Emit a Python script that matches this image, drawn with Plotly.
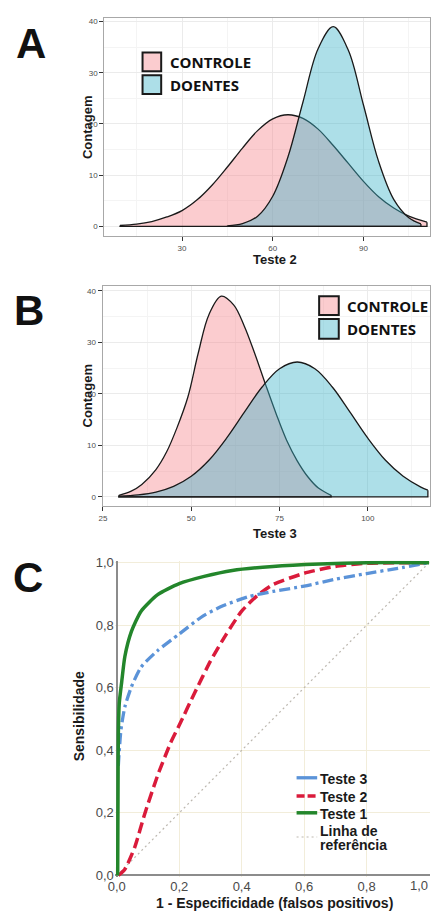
import plotly.graph_objects as go

# Page is 439x924; the browser's default 8px body margin surrounds the figure.
PAGE_W, PAGE_H = 439, 924
OFF = 8
W, H = PAGE_W - 2 * OFF, PAGE_H - 2 * OFF

# ---------------- Panel A (Teste 2) ----------------
a_ctrl_x = [9.5, 15, 20, 25, 30, 35, 40, 45, 50, 55, 60, 65, 70, 75, 80, 85, 90, 95, 100, 105, 111]
a_ctrl_y = [0.19, 0.46, 0.96, 1.85, 3.1, 5.2, 8.1, 11.6, 15.3, 18.7, 21.0, 21.8, 21.1, 19.0, 15.8, 12.3, 8.8, 5.8, 3.6, 2.0, 0.83]
a_doen_x = [45, 50, 55, 60, 65, 70, 75, 80, 85, 90, 95, 100, 105, 109]
a_doen_y = [0.12, 0.56, 2.0, 5.9, 13.5, 24.3, 34.7, 39.0, 34.4, 23.7, 12.7, 5.3, 1.7, 0.5]
a_xticks = [30, 60, 90]
a_yticks = [0, 10, 20, 30, 40]

# ---------------- Panel B (Teste 3) ----------------
b_ctrl_x = [29.5, 33, 36, 40, 43, 46, 49, 52, 55, 58.5, 62, 65, 68, 71, 74, 77, 80, 83, 86, 89.6]
b_ctrl_y = [0.3, 1.1, 2.4, 5.3, 8.7, 13.5, 19.3, 28.0, 35.4, 39.0, 37.3, 33.2, 27.8, 21.9, 16.2, 11.0, 7.0, 3.9, 1.7, 0.3]
b_doen_x = [29.5, 35, 40, 45, 50, 55, 60, 65, 70, 75, 80, 85, 90, 95, 100, 105, 110, 115, 117]
b_doen_y = [0.13, 0.39, 0.93, 2.04, 4.0, 7.1, 11.4, 16.4, 21.3, 24.9, 26.2, 24.9, 21.3, 16.4, 11.4, 7.1, 4.0, 1.9, 1.3]
b_xticks = [25, 50, 75, 100]
b_yticks = [0, 10, 20, 30, 40]

# ---------------- Panel C (ROC) ----------------
t1_x = [0.003, 0.004, 0.005, 0.008, 0.016, 0.026, 0.047, 0.078, 0.13, 0.2, 0.28, 0.37, 0.5, 0.65, 0.8, 1.0]
t1_y = [0.0, 0.25, 0.45, 0.55, 0.62, 0.70, 0.78, 0.845, 0.897, 0.933, 0.956, 0.975, 0.988, 0.996, 1.0, 1.0]
t2_x = [0.005, 0.026, 0.0575, 0.089, 0.131, 0.173, 0.2, 0.25, 0.3, 0.35, 0.4, 0.45, 0.5, 0.6, 0.7, 0.8, 1.0]
t2_y = [0.0, 0.02, 0.09, 0.195, 0.32, 0.425, 0.48, 0.585, 0.685, 0.77, 0.845, 0.895, 0.93, 0.966, 0.988, 0.998, 1.0]
t3_x = [0.005, 0.007, 0.0135, 0.026, 0.047, 0.078, 0.13, 0.2, 0.277, 0.34, 0.424, 0.5, 0.6, 0.7, 0.8, 0.9, 1.0]
t3_y = [0.35, 0.382, 0.466, 0.539, 0.603, 0.666, 0.718, 0.772, 0.83, 0.862, 0.892, 0.908, 0.925, 0.947, 0.965, 0.982, 1.0]
ref_x = [0, 1]
ref_y = [0, 1]
c_ticks = [0, 0.2, 0.4, 0.6, 0.8, 1.0]
c_ticktext = ["0,0", "0,2", "0,4", "0,6", "0,8", "1,0"]

group_names = ["CONTROLE", "DOENTES"]
roc_names = ["Teste 3", "Teste 2", "Teste 1"]

PINK = "rgba(244,128,134,0.40)"
BLUE = "rgba(60,178,200,0.42)"
OUTLINE = "#1a1a1a"
C_GREEN = "#23862B"
C_RED = "#DA1B3B"
C_BLUE = "#5B93D8"
C_REF = "#BDB8B0"

ARIAL = "Liberation Sans, Arial, sans-serif"
CAL = "Open Sans, sans-serif"


def px(x):
    return min(max((x - OFF) / W, 0), 1)


def py(y):
    return min(max(1 - (y - OFF) / H, 0), 1)


fig = go.Figure()


def density(xs, ys, fill, xa, ya):
    fig.add_trace(go.Scatter(x=xs, y=ys, mode="lines", fill="tozeroy", fillcolor=fill,
                             line=dict(shape="spline", color=OUTLINE, width=1.3),
                             xaxis=xa, yaxis=ya, showlegend=False, hoverinfo="skip"))


def edges(xs, ys, xa, ya):
    fig.add_trace(go.Scatter(x=[xs[0], xs[0], xs[-1], xs[-1]], y=[ys[0], 0, 0, ys[-1]],
                             mode="lines", line=dict(color=OUTLINE, width=1.3),
                             xaxis=xa, yaxis=ya, showlegend=False, hoverinfo="skip"))


density(a_ctrl_x, a_ctrl_y, PINK, "x", "y")
density(a_doen_x, a_doen_y, BLUE, "x", "y")
edges(a_ctrl_x, a_ctrl_y, "x", "y")
edges(a_doen_x, a_doen_y, "x", "y")

density(b_ctrl_x, b_ctrl_y, PINK, "x2", "y2")
density(b_doen_x, b_doen_y, BLUE, "x2", "y2")
edges(b_ctrl_x, b_ctrl_y, "x2", "y2")
edges(b_doen_x, b_doen_y, "x2", "y2")

# ROC
fig.add_trace(go.Scatter(x=ref_x, y=ref_y, mode="lines", line=dict(color=C_REF, width=1.2, dash="2px,3px"),
                         xaxis="x3", yaxis="y3", showlegend=False, hoverinfo="skip"))
fig.add_trace(go.Scatter(x=t2_x, y=t2_y, mode="lines", line=dict(color=C_RED, width=3.5, dash="11px,5px", shape="spline", smoothing=0.6),
                         xaxis="x3", yaxis="y3", showlegend=False))
fig.add_trace(go.Scatter(x=t3_x, y=t3_y, mode="lines", line=dict(color=C_BLUE, width=3.3, dash="11px,4px,3px,4px", shape="spline", smoothing=0.6),
                         xaxis="x3", yaxis="y3", showlegend=False))
fig.add_trace(go.Scatter(x=t1_x, y=t1_y, mode="lines", line=dict(color=C_GREEN, width=3.5, shape="spline", smoothing=0.6),
                         xaxis="x3", yaxis="y3", showlegend=False))

tickfont_small = dict(family=ARIAL, size=8, color="#4D4D4D")
common_ab = dict(showline=True, mirror=True, linecolor="#A8A8A8", linewidth=1,
                 ticks="outside", ticklen=4, tickcolor="#333333", tickwidth=1,
                 tickfont=tickfont_small, showgrid=True, gridcolor="#EBEBEB", gridwidth=1,
                 zeroline=False)

# the last x label of panel C sits at the page edge: drawn as a right-aligned annotation
c_xticktext = c_ticktext[:-1] + [""]

fig.update_layout(
    width=W, height=H, margin=dict(l=0, r=0, t=0, b=0),
    paper_bgcolor="white", plot_bgcolor="white", showlegend=False,
    xaxis=dict(domain=[px(99), 1.0], range=[4.3, 112.0], anchor="y", tickvals=a_xticks,
               minor=dict(tickvals=[15, 45, 75, 105], showgrid=True, gridcolor="#F4F4F4", ticks=""),
               **common_ab),
    yaxis=dict(domain=[py(233), py(12)], range=[-1.87, 40.7], anchor="x", tickvals=a_yticks,
               minor=dict(tickvals=[5, 15, 25, 35], showgrid=True, gridcolor="#F4F4F4", ticks=""),
               **common_ab),
    xaxis2=dict(domain=[px(97.3), 1.0], range=[24.9, 117.6], anchor="y2", tickvals=b_xticks,
                minor=dict(tickvals=[37.5, 62.5, 87.5, 112.5], showgrid=True, gridcolor="#F4F4F4", ticks=""),
                **common_ab),
    yaxis2=dict(domain=[py(507), py(284)], range=[-1.86, 40.9], anchor="x2", tickvals=b_yticks,
                minor=dict(tickvals=[5, 15, 25, 35], showgrid=True, gridcolor="#F4F4F4", ticks=""),
                **common_ab),
    xaxis3=dict(domain=[px(109.8), 1.0], range=[-0.006, 1.003], anchor="y3",
                tickvals=c_ticks, ticktext=c_xticktext, ticks="", showline=False,
                tickfont=dict(family=ARIAL, size=13, color="#4a4a4a"),
                showgrid=True, gridcolor="#F2EDDA", gridwidth=1,
                zeroline=True, zerolinecolor="#8C8C8C", zerolinewidth=1.5),
    yaxis3=dict(domain=[py(882.9), py(562.1)], range=[-0.006, 1.006], anchor="x3",
                tickvals=c_ticks, ticktext=c_ticktext, ticks="", showline=False,
                tickfont=dict(family=ARIAL, size=13, color="#4a4a4a"),
                showgrid=True, gridcolor="#F2EDDA", gridwidth=1,
                zeroline=True, zerolinecolor="#8C8C8C", zerolinewidth=1.5),
)

ann = []


def text(x, y, t, size, family=ARIAL, color="#1a1a1a", angle=0, xanchor="center"):
    ann.append(dict(x=px(x), y=py(y), xref="paper", yref="paper", text=t, showarrow=False,
                    font=dict(family=family, size=size, color=color), textangle=angle,
                    xanchor=xanchor, yanchor="middle"))


# panel letters
text(24, 38, "<b>A</b>", 42, color="#111111")
text(22, 308, "<b>B</b>", 42, color="#111111")
text(21, 579, "<b>C</b>", 42, color="#111111")

# axis titles
text(273, 256.5, "<b>Teste 2</b>", 13)
text(82, 123, "<b>Contagem</b>", 13, angle=-90)
text(273, 534, "<b>Teste 3</b>", 13)
text(82, 395, "<b>Contagem</b>", 13, angle=-90)
text(272, 908.5, "<b>1 - Especificidade (falsos positivos)</b>", 14)
text(73, 720, "<b>Sensibilidade</b>", 14, angle=-90)

# last x tick label of panel C
ann.append(dict(x=1.0, y=py(891.5), xref="paper", yref="paper", text=c_ticktext[-1], showarrow=False,
                font=dict(family=ARIAL, size=13, color="#4a4a4a"), xanchor="right", yanchor="middle"))

shapes = []


def box(x0, y0, x1, y1, fill):
    shapes.append(dict(type="rect", xref="paper", yref="paper", x0=px(x0), x1=px(x1), y0=py(y1), y1=py(y0),
                       fillcolor=fill, line=dict(color="#1a1a1a", width=2)))


# legend A
box(138, 47, 157, 66, PINK)
box(138, 70, 157, 89, BLUE)
text(164, 56.5, "<b>" + group_names[0] + "</b>", 15, family=CAL, color="#111111", xanchor="left")
text(164, 79.5, "<b>" + group_names[1] + "</b>", 15, family=CAL, color="#111111", xanchor="left")

# legend B
box(318, 294, 338, 313, PINK)
box(318, 317, 338, 337, BLUE)
text(344, 303.5, "<b>" + group_names[0] + "</b>", 15, family=CAL, color="#111111", xanchor="left")
text(344, 327, "<b>" + group_names[1] + "</b>", 15, family=CAL, color="#111111", xanchor="left")


def lseg(y, color, width, dash):
    shapes.append(dict(type="line", xref="paper", yref="paper", x0=px(295), x1=px(316), y0=py(y), y1=py(y),
                       line=dict(color=color, width=width, dash=dash)))


# legend C
lseg(782, C_BLUE, 3.3, "solid")
lseg(800.5, C_RED, 3.5, "8px,3px")
lseg(817.5, C_GREEN, 3.5, "solid")
lseg(842, C_REF, 1.2, "2px,3px")
text(317, 783, "<b>" + roc_names[0] + "</b>", 14, xanchor="left")
text(317, 801, "<b>" + roc_names[1] + "</b>", 14, xanchor="left")
text(317, 818.5, "<b>" + roc_names[2] + "</b>", 14, xanchor="left")
text(317, 836, "<b>Linha de</b>", 14, xanchor="left")
text(317, 850.5, "<b>referência</b>", 14, xanchor="left")

fig.update_layout(annotations=ann, shapes=shapes)

fig.write_html("out.html", config={"displayModeBar": False})
